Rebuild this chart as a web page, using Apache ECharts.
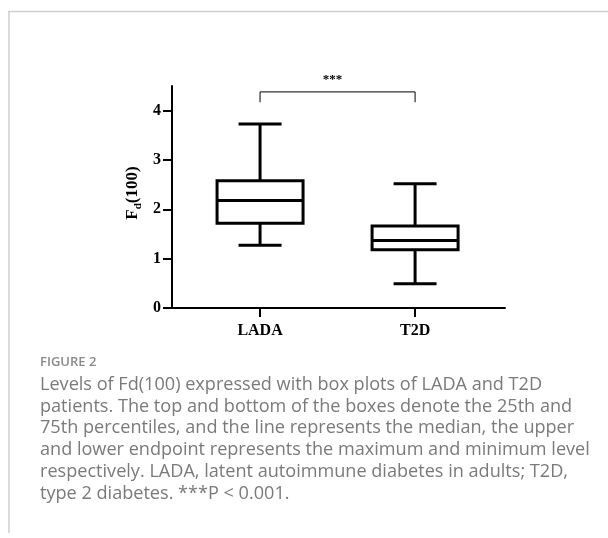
<!DOCTYPE html>
<html>
<head>
<meta charset="utf-8">
<script src="https://cdn.jsdelivr.net/npm/echarts@6/dist/echarts.min.js"></script>
<style>
  html, body { margin: 0; padding: 0; background: #fff; }
  #chart { width: 608px; height: 538px; }
</style>
</head>
<body>
<div id="chart"></div>
<script>
// ---- Data ----
var categories = ['LADA', 'T2D'];
var whiskerMin = [1.27, 0.49];
var q1 = [1.72, 1.18];
var median = [2.18, 1.37];
var q3 = [2.58, 1.66];
var whiskerMax = [3.73, 2.52];
var yTicks = [0, 1, 2, 3, 4];
var yAxisTitle = '{a|F}{s|d}{a|(100)}';
var bracketLevel = 4.38;
var bracketLegEnd = 4.17;
var significance = '***';
var captionTitle = 'FIGURE 2';
var captionLines = [
  'Levels of Fd(100) expressed with box plots of LADA and T2D',
  'patients. The top and bottom of the boxes denote the 25th and',
  '75th percentiles, and the line represents the median, the upper',
  'and lower endpoint represents the maximum and minimum level',
  'respectively. LADA, latent autoimmune diabetes in adults; T2D,',
  'type 2 diabetes. ***P < 0.001.'
];

var boxData = categories.map(function (c, i) {
  return [i, whiskerMin[i], q1[i], median[i], q3[i], whiskerMax[i]];
});

var BOX_HALF = 43, CAP_HALF = 21.5;
var serif = '"Liberation Serif", "Times New Roman", serif';

var chart = echarts.init(document.getElementById('chart'), null, { renderer: 'canvas' });

chart.setOption({
  animation: false,
  backgroundColor: '#fff',
  grid: { left: 172, right: 103, top: 86, bottom: 230 },
  xAxis: {
    type: 'value',
    min: -0.568, max: 1.58,
    splitLine: { show: false },
    axisLine: { show: true, onZero: false, lineStyle: { color: '#000', width: 2 } },
    axisTick: { show: true, customValues: [0, 1], length: 9, lineStyle: { color: '#000', width: 2 } },
    axisLabel: {
      customValues: [0, 1],
      formatter: function (v) { return categories[Math.round(v)]; },
      color: '#000', fontFamily: serif, fontWeight: 'bold', fontSize: 16, margin: 15
    }
  },
  yAxis: {
    type: 'value',
    min: 0, max: 4.5,
    interval: 1,
    splitLine: { show: false },
    axisLine: { show: true, onZero: false, lineStyle: { color: '#000', width: 2 } },
    axisTick: { show: true, customValues: yTicks, length: 9, lineStyle: { color: '#000', width: 2 } },
    axisLabel: {
      customValues: yTicks,
      color: '#000', fontFamily: serif, fontWeight: 'bold', fontSize: 16, margin: 11
    }
  },
  series: [
    {
      type: 'custom',
      data: boxData,
      encode: { x: 0, y: [1, 2, 3, 4, 5] },
      renderItem: function (params, api) {
        var x = api.value(0);
        var pMin = api.coord([x, api.value(1)]);
        var pQ1 = api.coord([x, api.value(2)]);
        var pMed = api.coord([x, api.value(3)]);
        var pQ3 = api.coord([x, api.value(4)]);
        var pMax = api.coord([x, api.value(5)]);
        var cx = pMin[0];
        var st = { stroke: '#000', lineWidth: 3, fill: null };
        return {
          type: 'group',
          children: [
            { type: 'line', shape: { x1: cx, y1: pMax[1], x2: cx, y2: pQ3[1] }, style: st },
            { type: 'line', shape: { x1: cx, y1: pQ1[1], x2: cx, y2: pMin[1] }, style: st },
            { type: 'line', shape: { x1: cx - CAP_HALF, y1: pMax[1], x2: cx + CAP_HALF, y2: pMax[1] }, style: st },
            { type: 'line', shape: { x1: cx - CAP_HALF, y1: pMin[1], x2: cx + CAP_HALF, y2: pMin[1] }, style: st },
            { type: 'rect', shape: { x: cx - BOX_HALF, y: pQ3[1], width: BOX_HALF * 2, height: pQ1[1] - pQ3[1] },
              style: { stroke: '#000', lineWidth: 3, fill: '#fff' } },
            { type: 'line', shape: { x1: cx - BOX_HALF, y1: pMed[1], x2: cx + BOX_HALF, y2: pMed[1] }, style: st }
          ]
        };
      }
    },
    {
      type: 'custom',
      data: [[0, 1, bracketLevel, bracketLegEnd]],
      encode: { x: [0, 1], y: [2, 3] },
      renderItem: function (params, api) {
        var a = api.coord([api.value(0), api.value(3)]);
        var b = api.coord([api.value(0), api.value(2)]);
        var c = api.coord([api.value(1), api.value(2)]);
        var d = api.coord([api.value(1), api.value(3)]);
        return {
          type: 'group',
          children: [
            { type: 'polyline', shape: { points: [a, b, c, d] }, style: { stroke: '#000', lineWidth: 1, fill: null } },
            { type: 'text', x: (b[0] + c[0]) / 2 - 5, y: b[1] - 6,
              style: { text: significance, fill: '#000', font: 'bold 13px ' + serif, align: 'center', verticalAlign: 'bottom' } }
          ]
        };
      }
    }
  ],
  graphic: [
    { type: 'line', shape: { x1: 8, y1: 11.5, x2: 608, y2: 11.5 }, style: { stroke: '#cfcfcf', lineWidth: 1.5 } },
    { type: 'line', shape: { x1: 9, y1: 11, x2: 9, y2: 533 }, style: { stroke: '#cfcfcf', lineWidth: 1.5 } },
    { type: 'text', x: 133, y: 193, rotation: Math.PI / 2,
      style: {
        text: yAxisTitle, align: 'center', verticalAlign: 'middle',
        rich: {
          a: { fontFamily: serif, fontWeight: 'bold', fontSize: 17, fill: '#000', lineHeight: 22 },
          s: { fontFamily: serif, fontWeight: 'bold', fontSize: 11, fill: '#000', lineHeight: 22, verticalAlign: 'bottom' }
        }
      } },
    { type: 'text', left: 40, top: 356,
      style: { text: captionTitle, fill: '#8a8a8a', font: '600 13px "Open Sans", sans-serif' } },
    { type: 'text', left: 40, top: 374,
      style: { text: captionLines.join('\n'), fill: '#7a7a7a', font: '400 18.1px "Open Sans", sans-serif', lineHeight: 21.7 } }
  ]
});
</script>
</body>
</html>
